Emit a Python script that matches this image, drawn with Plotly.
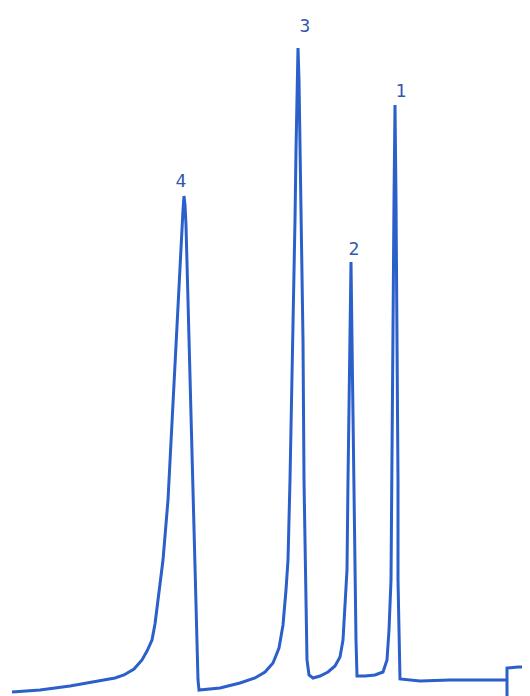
import plotly.graph_objects as go

# Trace of the chromatogram: retention position (x) and detector signal (y)
time = [12, 40, 70, 100, 115, 124, 134, 142, 147, 152, 155, 158, 163, 168, 173, 178, 181, 183, 184,
        185, 186, 188, 190, 193, 196, 198, 199, 220, 240, 255, 265, 273, 279,
        283, 286, 288, 290, 293, 295, 296, 297, 298, 299, 300, 301, 303, 304, 305, 306, 307, 309,
        313, 320, 328, 335, 340, 343, 345, 347, 348, 349, 350, 351, 352, 353, 354, 355, 356, 357,
        365, 375, 383, 387, 389, 391, 392, 393, 394, 395, 396, 397, 398, 398, 399, 400, 420, 450,
        480, 507, 507, 507, 518, 530]
signal = [4, 6, 10, 15, 18, 21, 27, 36, 45, 56, 72, 96, 136, 196, 296, 396, 456, 486, 500,
          491, 471, 396, 296, 196, 96, 16, 6, 8, 13, 18, 24, 33, 48,
          71, 106, 136, 216, 356, 476, 546, 616, 648, 616, 546, 476, 356, 216, 136, 76, 36, 21,
          18, 20, 24, 30, 39, 56, 86, 126, 216, 276, 356, 434, 356, 276, 216, 126, 56, 20,
          20, 21, 24, 36, 66, 116, 216, 366, 496, 591, 496, 366, 216, 116, 56, 17, 15, 16,
          16, 16, -4, 28, 29, 29]

peak_labels = ["4", "3", "2", "1"]
peak_time = [181, 305, 354, 401]
peak_label_signal = [514, 669, 446, 604]

line_color = "#2b5fc9"
text_color = "#3157ad"

fig = go.Figure()
fig.add_trace(go.Scatter(x=time, y=signal, mode="lines",
                         line=dict(color=line_color, width=3), hoverinfo="skip",
                         showlegend=False))
fig.add_trace(go.Scatter(x=peak_time, y=peak_label_signal, mode="text", text=peak_labels,
                         textfont=dict(family="DejaVu Sans Mono", size=18, color=text_color),
                         showlegend=False, hoverinfo="skip"))

# the page body has an 8px default margin, so the figure is drawn from (8, 8)
fig.update_layout(
    width=522, height=688,
    margin=dict(l=0, r=0, t=0, b=0),
    paper_bgcolor="white", plot_bgcolor="white",
    xaxis=dict(range=[8, 530], visible=False, fixedrange=True),
    yaxis=dict(range=[0, 688], visible=False, fixedrange=True),
)

fig.write_html("out.html")
